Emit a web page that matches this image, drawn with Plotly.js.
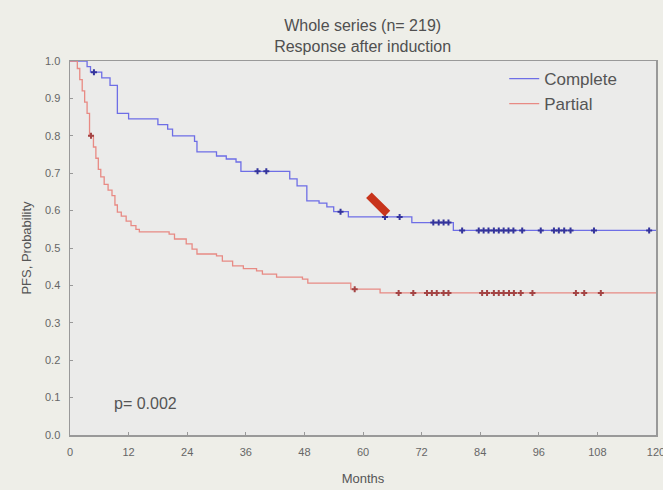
<!DOCTYPE html>
<html>
<head>
<meta charset="utf-8">
<script src="https://cdn.plot.ly/plotly-3.0.1.min.js"></script>
<style>html,body{margin:0;padding:0;background:#eeeee8;}#chart{width:663px;height:490px;}</style>
</head>
<body>
<div id="chart"></div>
<script>
// Kaplan-Meier step data (time in months, survival probability)
var completeTimes = [0, 3.5, 4.2, 6.5, 8.2, 9.7, 12, 18, 20, 21, 25.5, 26, 30, 32, 34, 35, 45, 46.5, 48.5, 51, 52.6, 54, 57, 70, 78.5, 120];
var completeSurv  = [1.0, 0.985, 0.97, 0.955, 0.935, 0.86, 0.845, 0.83, 0.818, 0.80, 0.785, 0.757, 0.746, 0.738, 0.73, 0.705, 0.685, 0.666, 0.626, 0.62, 0.61, 0.597, 0.583, 0.568, 0.547, 0.547];
var completeCensored = [4.9, 38.4, 40.2, 55.4, 64.5, 67.5, 74.4, 75.5, 76.5, 77.5, 80.3, 83.7, 84.7, 85.7, 86.8, 87.8, 88.8, 89.8, 90.8, 92.6, 96.4, 99.1, 100.1, 101.2, 102.5, 107.3, 118.6];

var partialTimes = [0, 1.5, 2, 2.5, 3, 3.5, 4, 4.8, 5.3, 5.8, 6.3, 7, 7.8, 8.6, 9.2, 9.7, 10.5, 11.5, 12.5, 13.5, 14.2, 20.3, 21.4, 23.8, 25, 26, 30, 31.2, 33.3, 35.5, 38.2, 39.4, 42.3, 47.6, 48.7, 57.5, 63.5, 120];
var partialSurv  = [1.0, 0.98, 0.95, 0.92, 0.89, 0.86, 0.80, 0.77, 0.74, 0.71, 0.69, 0.67, 0.655, 0.64, 0.615, 0.596, 0.585, 0.572, 0.56, 0.55, 0.543, 0.537, 0.524, 0.511, 0.497, 0.484, 0.479, 0.465, 0.452, 0.445, 0.439, 0.43, 0.422, 0.417, 0.406, 0.39, 0.38, 0.38];
var partialCensored = [4.3, 58.3, 67.3, 70.3, 73.1, 74.1, 75.1, 76.5, 77.5, 84.4, 85.4, 86.8, 87.8, 88.8, 89.9, 90.9, 92.3, 94.7, 103.6, 105.3, 108.7];

var seriesNames = ['Complete', 'Partial'];
var xTicks = [0, 12, 24, 36, 48, 60, 72, 84, 96, 108, 120];
var yTicks = [0, 0.1, 0.2, 0.3, 0.4, 0.5, 0.6, 0.7, 0.8, 0.9, 1.0];

function survAt(times, surv, t) {
  var s = surv[0];
  for (var i = 0; i < times.length; i++) { if (times[i] <= t) s = surv[i]; }
  return s;
}

var traces = [
  {x: completeTimes, y: completeSurv, type: 'scatter', mode: 'lines', line: {shape: 'hv', color: '#6e6ee6', width: 1.3}, name: seriesNames[0], hoverinfo: 'skip'},
  {x: partialTimes, y: partialSurv, type: 'scatter', mode: 'lines', line: {shape: 'hv', color: '#e88a84', width: 1.3}, name: seriesNames[1], hoverinfo: 'skip'},
  {x: completeCensored, y: completeCensored.map(function(t){return survAt(completeTimes, completeSurv, t);}), type: 'scatter', mode: 'markers', marker: {symbol: 'cross', size: 5, color: '#34349c'}, showlegend: false},
  {x: partialCensored, y: partialCensored.map(function(t){return survAt(partialTimes, partialSurv, t);}), type: 'scatter', mode: 'markers', marker: {symbol: 'cross', size: 5, color: '#a44444'}, showlegend: false}
];

var layout = {
  width: 663, height: 490,
  margin: {l: 70, r: 7, t: 61, b: 55},
  paper_bgcolor: '#eeeee8',
  plot_bgcolor: '#ebebea',
  font: {family: 'Liberation Sans, Arial, sans-serif', color: '#555'},
  title: {text: 'Whole series (n= 219)<br>Response after induction', x: 0.547, xanchor: 'center', y: 0.9367, yanchor: 'middle', font: {size: 16, color: '#505050'}},
  xaxis: {range: [0, 120], tickvals: xTicks, ticktext: xTicks.map(String), ticks: 'inside', ticklen: 3, tickcolor: '#999', showgrid: false, zeroline: false, showline: true, linecolor: '#999', linewidth: 1.5, mirror: true, tickfont: {size: 11, color: '#666'}, ticklabelstandoff: 6, ticklabeloverflow: 'allow',
    title: {text: 'Months', font: {size: 13, color: '#555'}, standoff: 17}},
  yaxis: {range: [0, 1], tickvals: yTicks, ticktext: yTicks.map(function(v){return v.toFixed(1);}), ticks: 'inside', ticklen: 3, tickcolor: '#999', showgrid: false, zeroline: false, showline: true, linecolor: '#999', linewidth: 1.5, mirror: true, tickfont: {size: 11, color: '#666'}, ticklabelstandoff: 6,
    title: {text: 'PFS, Probability', font: {size: 13, color: '#555'}, standoff: 10}},
  legend: {x: 0.741, xanchor: 'left', y: 1.0, yanchor: 'top', bgcolor: 'rgba(0,0,0,0)', font: {size: 17, color: '#555'}, itemwidth: 30},
  annotations: [
    {x: 8.5, y: 0.085, xref: 'x', yref: 'y', text: 'p= 0.002', showarrow: false, xanchor: 'left', font: {size: 16, color: '#555'}},
    {x: 65.0, y: 0.592, ax: 60.9, ay: 0.645, xref: 'x', yref: 'y', axref: 'x', ayref: 'y', text: '', showarrow: true, arrowhead: 0, arrowwidth: 8, arrowcolor: '#c8341c'}
  ]
};

Plotly.newPlot('chart', traces, layout, {displayModeBar: false, staticPlot: true});
</script>
</body>
</html>
